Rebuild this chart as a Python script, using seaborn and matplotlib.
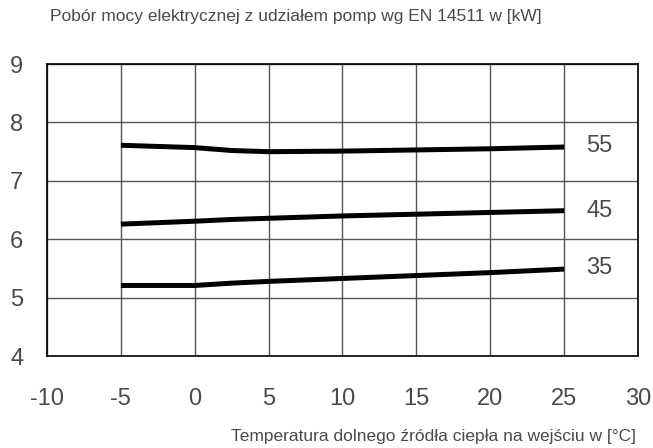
import matplotlib
matplotlib.use("Agg")
import matplotlib.pyplot as plt
from matplotlib.ticker import MultipleLocator
import numpy as np
import pandas as pd
import seaborn as sns

# dane
temp_in = [-5, 0, 2.5, 5, 10, 15, 20, 25]
p55 = [7.61, 7.57, 7.52, 7.50, 7.51, 7.53, 7.55, 7.58]
p45 = [6.26, 6.31, 6.34, 6.36, 6.40, 6.43, 6.46, 6.49]
p35 = [5.21, 5.21, 5.25, 5.28, 5.33, 5.38, 5.43, 5.49]
series_names = ["55", "45", "35"]
label_y = [7.60, 6.49, 5.51]

df = pd.DataFrame({
    "temp": temp_in * 3,
    "power": p55 + p45 + p35,
    "series": [s for s in series_names for _ in temp_in],
})

sns.set_style("white")
plt.rcParams['font.family'] = ['Liberation Sans', 'DejaVu Sans']
plt.rcParams['axes.unicode_minus'] = False
txt = "#4a4a4a"

fig = plt.figure(figsize=(6.53, 4.48), dpi=100)
ax = fig.add_axes([0.072, 0.205, 0.905, 0.652])

sns.lineplot(data=df, x="temp", y="power", units="series", estimator=None,
             color="black", lw=3.6, ax=ax, legend=False, solid_capstyle="butt")

ax.set_xlim(-10, 30)
ax.set_ylim(4, 9)
ax.xaxis.set_major_locator(MultipleLocator(5))
ax.xaxis.set_minor_locator(MultipleLocator(1))
ax.yaxis.set_major_locator(MultipleLocator(1))
ax.yaxis.set_minor_locator(MultipleLocator(0.2))
ax.grid(True, which="major", color="#555555", lw=1.0)
ax.tick_params(which="major", length=0, labelsize=17, labelcolor=txt)
ax.tick_params(axis="x", which="major", pad=23)
ax.tick_params(axis="y", which="major", pad=17)
ax.tick_params(which="minor", direction="in", length=4, color="#666666", width=0.8)
for sp in ax.spines.values():
    sp.set_visible(True)
    sp.set_color("black")
    sp.set_linewidth(1.2)

for name, yv in zip(series_names, label_y):
    ax.text(27.4, yv, name, fontsize=17, color=txt, va="center", ha="center")

ax.set_xlabel("")
ax.set_ylabel("")
fig.text(50 / 653, 1 - 16 / 448, "Pobór mocy elektrycznej z udziałem pomp wg EN 14511 w [kW]",
         fontsize=12.5, color=txt, va="center", ha="left")
fig.text(636 / 653, 1 - 436 / 448, "Temperatura dolnego źródła ciepła na wejściu w [°C]",
         fontsize=12.5, color=txt, va="center", ha="right")

fig.savefig("out.png", dpi=100)
